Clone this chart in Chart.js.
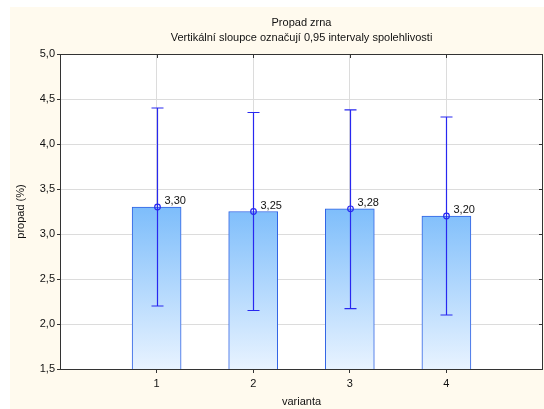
<!DOCTYPE html>
<html><head><meta charset="utf-8">
<script src="https://cdn.jsdelivr.net/npm/chart.js@4"></script>
<style>html,body{margin:0;padding:0;background:#fff}#w{position:relative;width:544px;height:409px}</style>
</head><body><div id="w"><canvas id="c" width="544" height="409"></canvas></div>
<script>
const categories = ['1', '2', '3', '4'];
const means = [3.30, 3.25, 3.28, 3.20];
const lowerCI = [2.20, 2.15, 2.17, 2.10];
const upperCI = [4.40, 4.35, 4.38, 4.30];
const meanLabels = ['3,30', '3,25', '3,28', '3,20'];
const yTicks = [1.5, 2.0, 2.5, 3.0, 3.5, 4.0, 4.5, 5.0];
const titleText = 'Propad zrna';
const subtitleText = 'Vertikální sloupce označují 0,95 intervaly spolehlivosti';
const xTitle = 'varianta';
const yTitle = 'propad (%)';

const FONT = '"Liberation Sans", Arial, sans-serif';
const BLUE = '#2828f0';

const bgPlugin = {
  id: 'bg',
  beforeDraw(chart) {
    const ctx = chart.ctx;
    ctx.save();
    ctx.fillStyle = '#fffaee';
    ctx.fillRect(10, 7, chart.width - 10, chart.height - 7);
    const a = chart.chartArea;
    ctx.fillStyle = '#ffffff';
    ctx.fillRect(a.left, a.top, a.right - a.left, a.bottom - a.top);
    ctx.fillStyle = '#111';
    ctx.font = '11px ' + FONT;
    ctx.textAlign = 'center';
    ctx.textBaseline = 'middle';
    const cx = (a.left + a.right) / 2;
    ctx.fillText(titleText, cx, 23);
    ctx.fillText(subtitleText, cx, 38);
    ctx.restore();
  },
  afterDraw(chart) {
    const ctx = chart.ctx;
    const a = chart.chartArea;
    const x = chart.scales.x, y = chart.scales.y;
    ctx.save();
    ctx.strokeStyle = '#333';
    ctx.lineWidth = 1;
    ctx.strokeRect(Math.round(a.left) + 0.5, Math.round(a.top) + 0.5, Math.round(a.right - a.left) - 1, Math.round(a.bottom - a.top));
    ctx.beginPath();
    yTicks.forEach(v => {
      const py = Math.round(y.getPixelForValue(v)) + 0.5;
      ctx.moveTo(a.right - 4, py); ctx.lineTo(a.right, py);
    });
    categories.forEach((c, i) => {
      const px = Math.round(x.getPixelForValue(i + 1)) + 0.5;
      ctx.moveTo(px, a.top); ctx.lineTo(px, a.top + 4);
    });
    ctx.stroke();
    ctx.strokeStyle = BLUE;
    ctx.lineWidth = 1.2;
    means.forEach((m, i) => {
      const px = Math.round(x.getPixelForValue(i + 1)) + 0.5;
      const pl = y.getPixelForValue(lowerCI[i]);
      const pu = y.getPixelForValue(upperCI[i]);
      ctx.beginPath();
      ctx.moveTo(px, pl); ctx.lineTo(px, pu);
      ctx.moveTo(px - 6, pl); ctx.lineTo(px + 6, pl);
      ctx.moveTo(px - 6, pu); ctx.lineTo(px + 6, pu);
      ctx.stroke();
      const pm = y.getPixelForValue(m);
      ctx.beginPath();
      ctx.arc(px, pm, 2.8, 0, Math.PI * 2);
      ctx.stroke();
      ctx.fillStyle = '#111';
      ctx.font = '11px ' + FONT;
      ctx.textAlign = 'left';
      ctx.textBaseline = 'alphabetic';
      ctx.fillText(meanLabels[i], px + 7, pm - 3);
    });
    ctx.restore();
  }
};

const barData = means.map((m, i) => ({ x: i + 1, y: m }));

new Chart(document.getElementById('c'), {
  type: 'bar',
  data: {
    datasets: [{
      data: barData,
      barThickness: 49,
      borderWidth: 1,
      borderColor: '#2f62e4',
      borderSkipped: 'bottom',
      backgroundColor(ctx) {
        const ch = ctx.chart;
        const a = ch.chartArea;
        if (!a) return '#9fd0ff';
        const y = ch.scales.y;
        const g = ch.ctx.createLinearGradient(0, y.getPixelForValue(3.3), 0, a.bottom);
        g.addColorStop(0, '#7dbdfb');
        g.addColorStop(1, '#e8f3ff');
        return g;
      }
    }]
  },
  options: {
    responsive: false,
    animation: false,
    layout: { padding: { left: 10, top: 54, right: 1, bottom: 0 } },
    plugins: { legend: { display: false }, tooltip: { enabled: false } },
    scales: {
      x: {
        type: 'linear',
        min: 0, max: 5,
        offset: false,
        afterBuildTicks(s) { s.ticks = categories.map((c, i) => ({ value: i + 1 })); },
        afterFit(s) { s.height = 40; },
        ticks: {
          callback(v) { return categories[v - 1] || ''; },
          color: '#111', font: { family: FONT, size: 11 }, padding: 4, maxRotation: 0
        },
        grid: { color: '#dcdcdc', tickLength: 4, tickColor: '#333', offset: false },
        border: { display: false },
        title: { display: true, text: xTitle, color: '#111', font: { family: FONT, size: 11 }, padding: { top: 4, bottom: 0 } }
      },
      y: {
        min: 1.5, max: 5.0,
        afterBuildTicks(s) { s.ticks = yTicks.map(v => ({ value: v })); },
        afterFit(s) { s.width = 50; },
        ticks: {
          callback(v) { return v.toFixed(1).replace('.', ','); },
          color: '#111', font: { family: FONT, size: 11 }, padding: 2
        },
        grid: { color: '#dcdcdc', tickLength: 3, tickColor: '#333' },
        border: { display: false },
        title: { display: true, text: yTitle, color: '#111', font: { family: FONT, size: 11 }, padding: { top: 4, bottom: 0 } }
      }
    }
  },
  plugins: [bgPlugin]
});
</script>
</body></html>
